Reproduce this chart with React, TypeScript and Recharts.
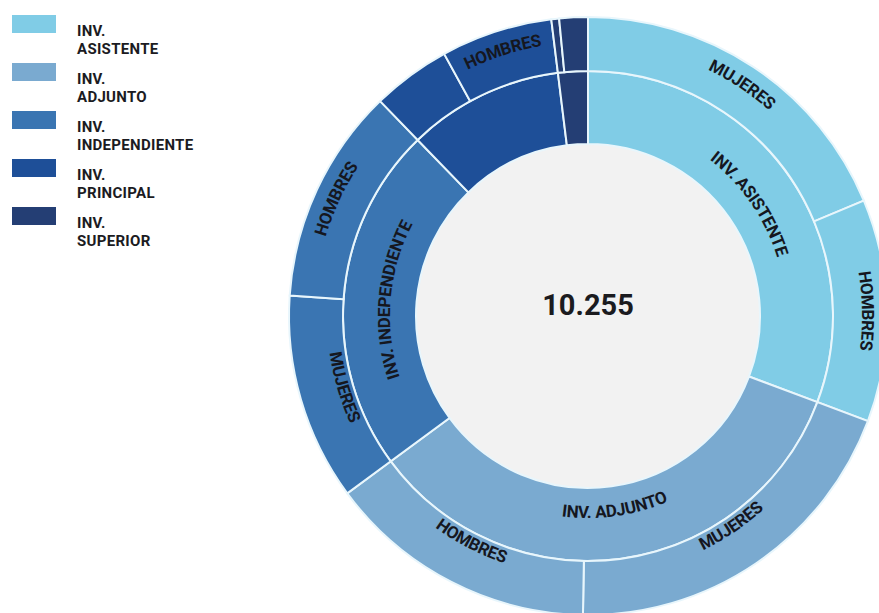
import { PieChart, Pie, Cell, Label } from 'recharts'

// categorías (anillo interior) y desglose por género (anillo exterior)
const categories = ['INV. ASISTENTE', 'INV. ADJUNTO', 'INV. INDEPENDIENTE', 'INV. PRINCIPAL', 'INV. SUPERIOR']
const mujeres = [1917, 2005, 1148, 436, 43]
const hombres = [1233, 1500, 1197, 618, 158]
const colors = ['#80cce6', '#7aaad0', '#3a75b2', '#1e4f98', '#243e74']

const innerData = categories.map((name, i) => ({ name, value: mujeres[i] + hombres[i] }))
const outerData = categories.flatMap((c, i) => [
  { name: 'MUJERES', cat: i, value: mujeres[i] },
  { name: 'HOMBRES', cat: i, value: hombres[i] },
])
const total = innerData.reduce((s, d) => s + d.value, 0)
const totalLabel = String(total).replace(/\B(?=(\d{3})+(?!\d))/g, '.')

const RAD = Math.PI / 180
const CX = 588
const CY = 316

// etiqueta curva sobre el arco del sector
function arcLabel(ring: string, rTop: number, rBottom: number, minAngle: number) {
  return (props: any) => {
    const { cx, cy, midAngle, percent, name, index } = props
    if (percent * 360 < minAngle) return null
    const top = Math.sin(midAngle * RAD) > -0.05
    const r = top ? rTop : rBottom
    const a1 = top ? midAngle + 70 : midAngle - 70
    const a2 = top ? midAngle - 70 : midAngle + 70
    const x1 = cx + r * Math.cos(a1 * RAD)
    const y1 = cy - r * Math.sin(a1 * RAD)
    const x2 = cx + r * Math.cos(a2 * RAD)
    const y2 = cy - r * Math.sin(a2 * RAD)
    const id = `arc-${ring}-${index}`
    return (
      <g key={id}>
        <path id={id} d={`M${x1},${y1} A${r},${r} 0 0 ${top ? 1 : 0} ${x2},${y2}`} fill="none" stroke="none" />
        <text fontSize={17} fontWeight={700} fill="#15171f" fontFamily="Roboto" stroke="none" letterSpacing={-0.3}>
          <textPath href={`#${id}`} startOffset="50%" textAnchor="middle">
            {name}
          </textPath>
        </text>
      </g>
    )
  }
}

function CenterLabel(props: any) {
  const { cx, cy } = props.viewBox ?? { cx: CX, cy: CY }
  return (
    <text x={cx} y={cy - 1} textAnchor="middle" fontSize={29} fontWeight={700} fill="#1b1b1f" fontFamily="Roboto">
      {totalLabel}
    </text>
  )
}

export default function App() {
  return (
    <div style={{ position: 'absolute', left: 0, top: 0, width: 879, height: 613, overflow: 'hidden', background: '#fff' }}>
      <PieChart width={879} height={613} margin={{ top: 0, right: 0, bottom: 0, left: 0 }}>
        <Pie
          data={[{ name: 'total', value: total }]}
          dataKey="value"
          cx={CX}
          cy={CY}
          innerRadius={0}
          outerRadius={172}
          fill="#f2f2f2"
          stroke="none"
          isAnimationActive={false}
        >
          <Label content={<CenterLabel />} />
        </Pie>
        <Pie
          data={innerData}
          dataKey="value"
          cx={CX}
          cy={CY}
          innerRadius={172}
          outerRadius={245}
          startAngle={90}
          endAngle={-270}
          stroke="#e8f6fc"
          strokeWidth={2}
          label={arcLabel('in', 198, 202, 60)}
          labelLine={false}
          isAnimationActive={false}
        >
          {innerData.map((d, i) => (
            <Cell key={d.name} fill={colors[i]} />
          ))}
        </Pie>
        <Pie
          data={outerData}
          dataKey="value"
          cx={CX}
          cy={CY}
          innerRadius={245}
          outerRadius={299}
          startAngle={90}
          endAngle={-270}
          stroke="#e8f6fc"
          strokeWidth={2}
          label={arcLabel('out', 274, 261, 18)}
          labelLine={false}
          isAnimationActive={false}
        >
          {outerData.map((d, i) => (
            <Cell key={i} fill={colors[d.cat]} />
          ))}
        </Pie>
      </PieChart>

      {/* leyenda */}
      <div style={{ position: 'absolute', left: 12, top: 15, fontFamily: 'Roboto', fontWeight: 700, fontSize: 15, color: '#1b1b22' }}>
        {categories.map((c, i) => {
          const [first, ...rest] = c.split(' ')
          return (
            <div key={c} style={{ position: 'relative', height: 48, width: 220 }}>
              <div style={{ position: 'absolute', left: 0, top: 0, width: 44, height: 18, background: colors[i] }} />
              <div style={{ position: 'absolute', left: 65, top: 7, lineHeight: '18px', whiteSpace: 'nowrap', letterSpacing: 0.3 }}>
                <div>{first}</div>
                <div>{rest.join(' ')}</div>
              </div>
            </div>
          )
        })}
      </div>
    </div>
  )
}
